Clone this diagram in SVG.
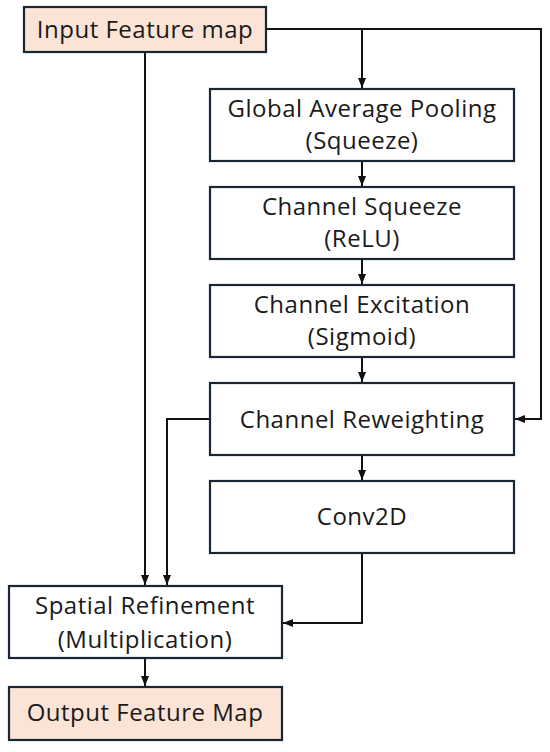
<svg xmlns="http://www.w3.org/2000/svg" width="550" height="752" viewBox="0 0 550 752">
<style>
.box{fill:#ffffff;stroke:#1a2633;stroke-width:2.2}
.hl{fill:#fbe3d6;stroke:#1a2633;stroke-width:2.2}
.t{font-family:"Open Sans","Liberation Sans",sans-serif;font-size:24px;letter-spacing:0.5px;fill:#1a1a1a;text-anchor:middle}
.c{fill:none;stroke:#111111;stroke-width:2}
</style>
<defs>
<marker id="ah" markerUnits="userSpaceOnUse" markerWidth="10" markerHeight="10" viewBox="0 0 10 10" refX="10" refY="5" orient="auto">
<path d="M0,1 L10,5 L0,9 Z" fill="#111111"/>
</marker>
</defs>
<rect width="550" height="752" fill="#ffffff"/>
<g id="connectors">
<polyline class="c" points="266,29 541,29 541,419 515,419" marker-end="url(#ah)"/>
<line class="c" x1="362" y1="29" x2="362" y2="88" marker-end="url(#ah)"/>
<line class="c" x1="145" y1="52" x2="145" y2="585" marker-end="url(#ah)"/>
<line class="c" x1="362" y1="161" x2="362" y2="186" marker-end="url(#ah)"/>
<line class="c" x1="362" y1="259" x2="362" y2="284" marker-end="url(#ah)"/>
<line class="c" x1="362" y1="357" x2="362" y2="382" marker-end="url(#ah)"/>
<line class="c" x1="362" y1="455" x2="362" y2="480" marker-end="url(#ah)"/>
<polyline class="c" points="210,419 167,419 167,585" marker-end="url(#ah)"/>
<polyline class="c" points="362,553 362,623 283,623" marker-end="url(#ah)"/>
<line class="c" x1="145" y1="658" x2="145" y2="686" marker-end="url(#ah)"/>
</g>
<g id="input">
<rect class="hl" x="24" y="7" width="242" height="45"/>
<text class="t" x="145" y="38">Input Feature map</text>
</g>
<g id="gap">
<rect class="box" x="210" y="89" width="304" height="72"/>
<text class="t" x="362" y="117">Global Average Pooling</text>
<text class="t" x="362" y="149">(Squeeze)</text>
</g>
<g id="squeeze">
<rect class="box" x="210" y="187" width="304" height="72"/>
<text class="t" x="362" y="215">Channel Squeeze</text>
<text class="t" x="362" y="247">(ReLU)</text>
</g>
<g id="excitation">
<rect class="box" x="210" y="285" width="304" height="72"/>
<text class="t" x="362" y="313">Channel Excitation</text>
<text class="t" x="362" y="345">(Sigmoid)</text>
</g>
<g id="reweighting">
<rect class="box" x="210" y="383" width="304" height="72"/>
<text class="t" x="362" y="428">Channel Reweighting</text>
</g>
<g id="conv2d">
<rect class="box" x="210" y="481" width="304" height="72"/>
<text class="t" x="362" y="525">Conv2D</text>
</g>
<g id="spatial">
<rect class="box" x="9" y="586" width="273" height="72"/>
<text class="t" x="145" y="614">Spatial Refinement</text>
<text class="t" x="145" y="648">(Multiplication)</text>
</g>
<g id="output">
<rect class="hl" x="9" y="687" width="273" height="53"/>
<text class="t" x="145" y="721">Output Feature Map</text>
</g>
</svg>
